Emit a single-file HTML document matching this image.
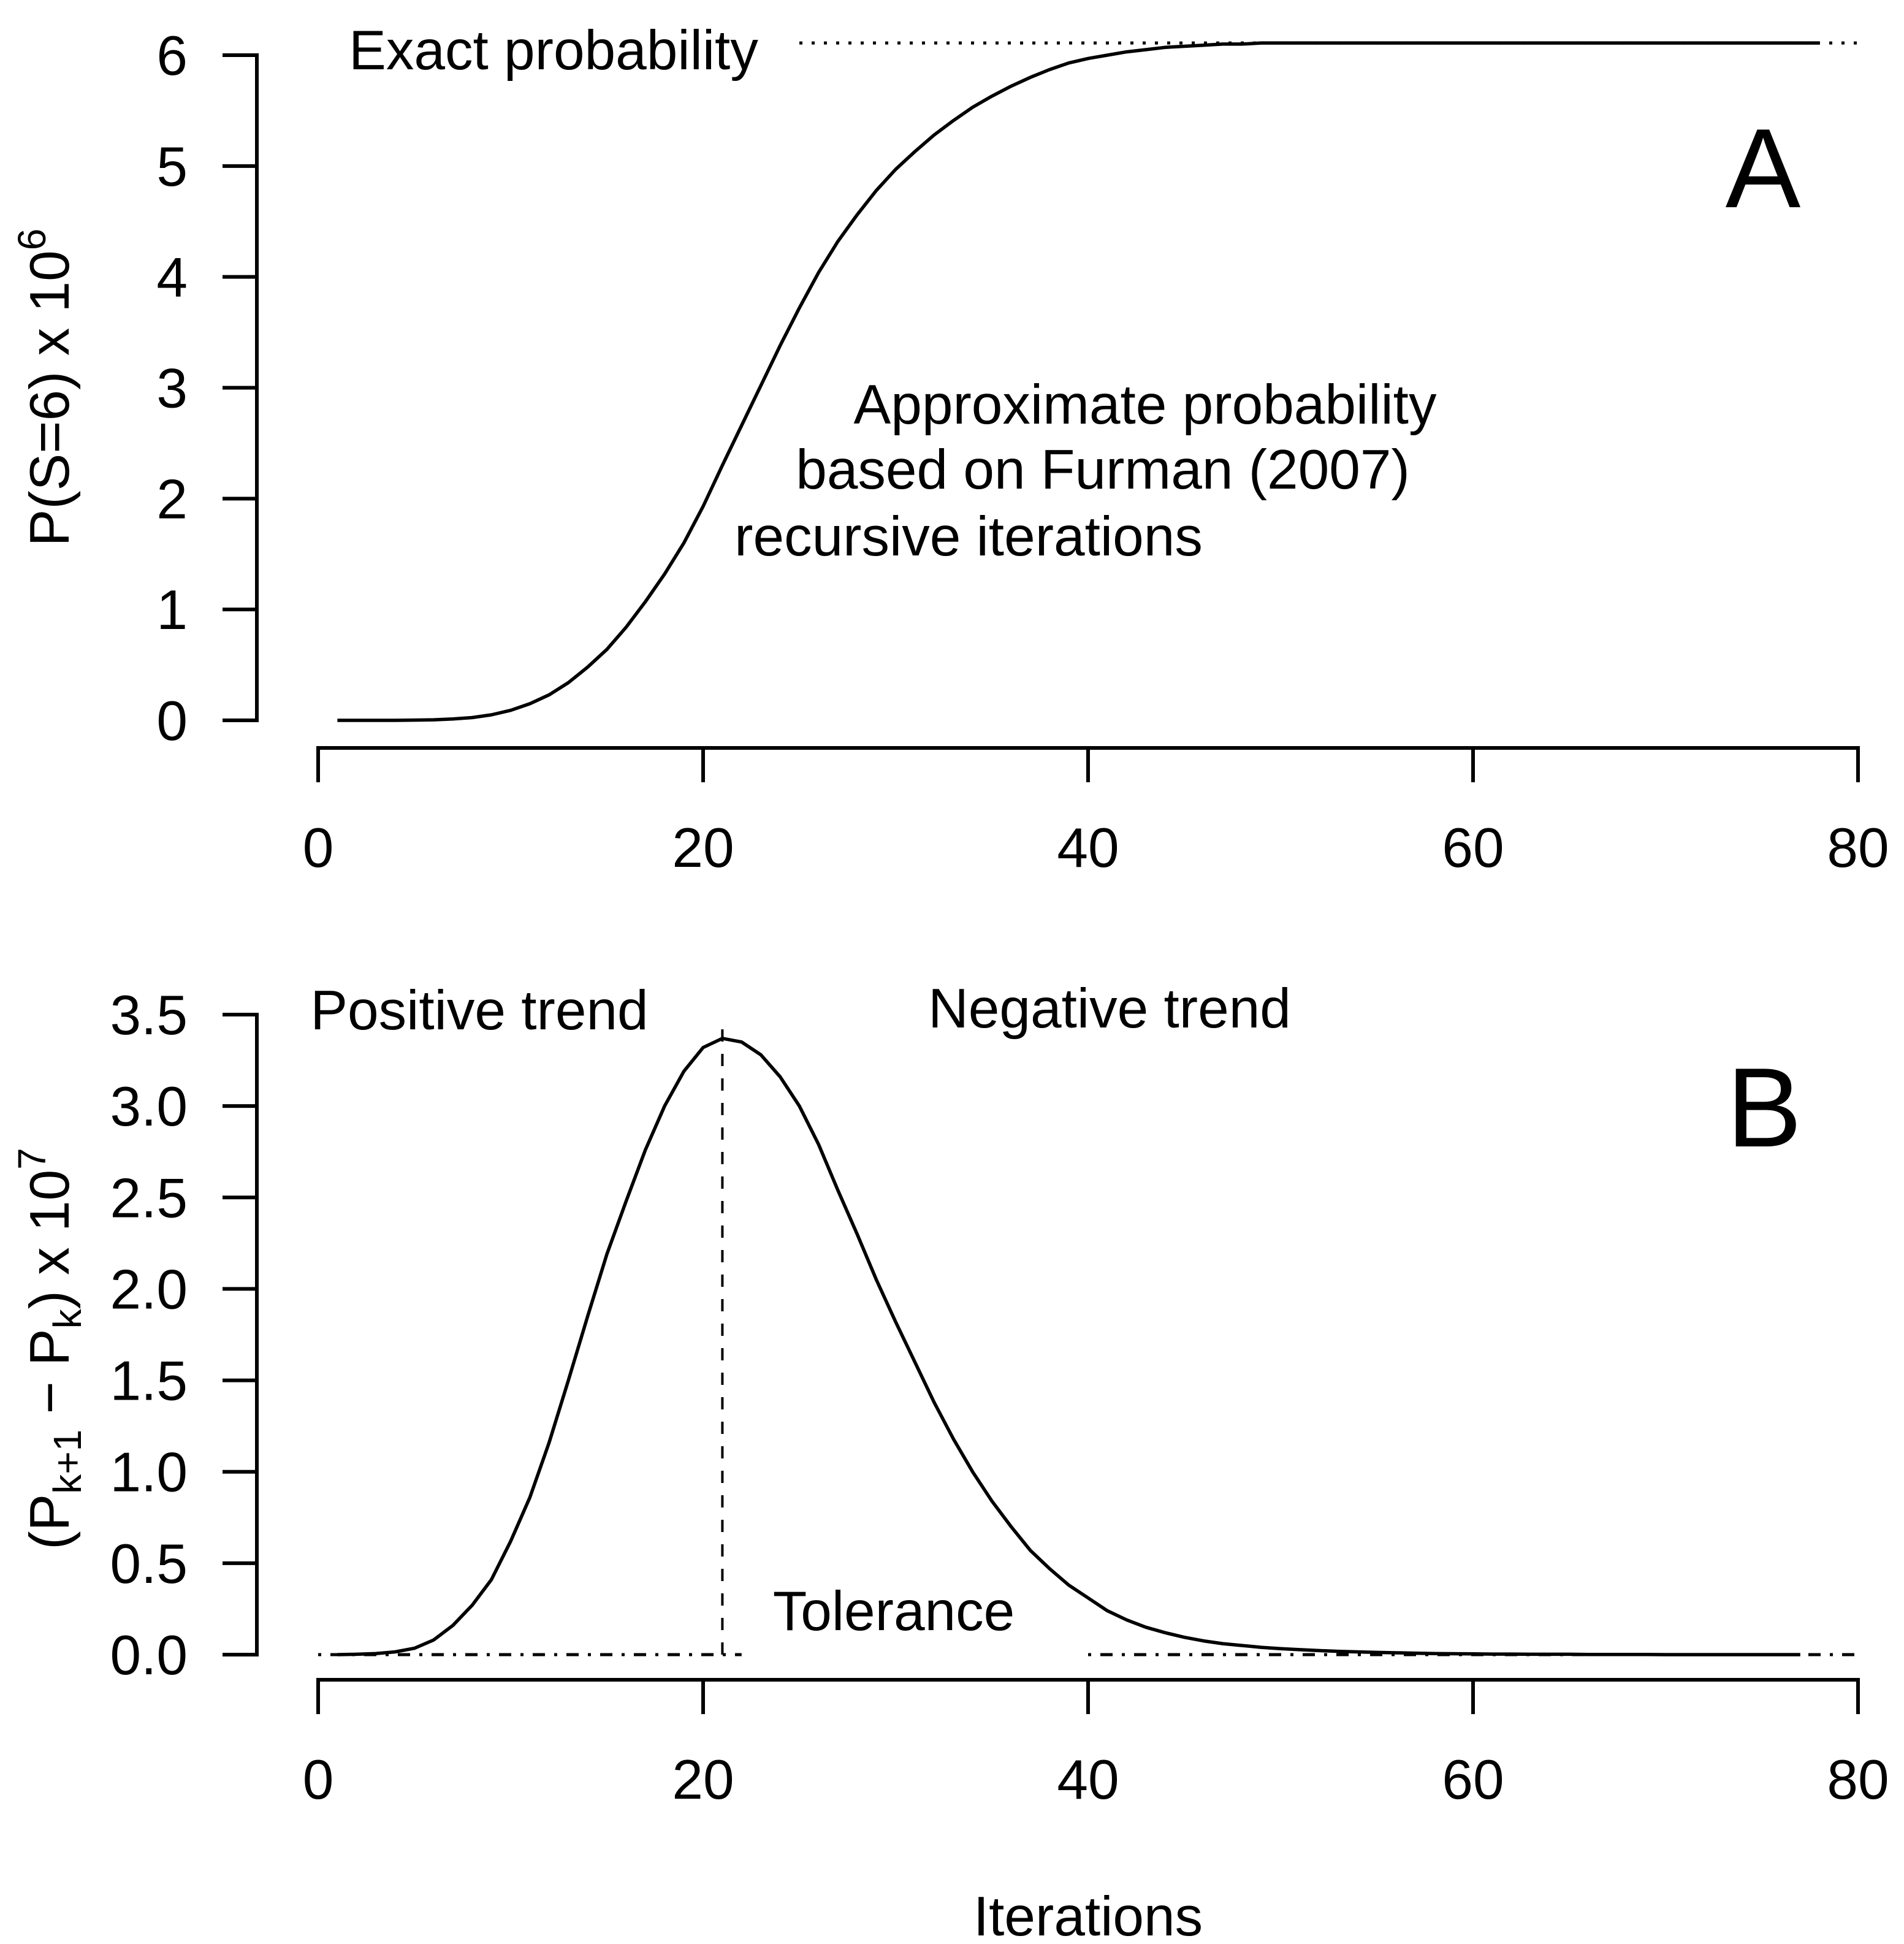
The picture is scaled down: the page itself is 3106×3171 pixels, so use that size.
<!DOCTYPE html>
<html><head><meta charset="utf-8"><style>
html,body{margin:0;padding:0;background:#fff}
body{position:relative}
svg{display:block}
text{font-family:"Liberation Sans",Arial,sans-serif;fill:#000}
</style></head><body>
<svg id="chart" width="3106" height="3171" viewBox="0 0 3106 3171" xmlns="http://www.w3.org/2000/svg">
<g id="panelA"></g>
<g id="panelB"></g>
<text x="1775" y="3157" font-size="91" text-anchor="middle">Iterations</text>
</svg>
<script>
const xTicks = [0, 20, 40, 60, 80];
const aTicks = [0, 1, 2, 3, 4, 5, 6];
const aTickLabels = ["0", "1", "2", "3", "4", "5", "6"];
const bTicks = [0, 0.5, 1, 1.5, 2, 2.5, 3, 3.5];
const bTickLabels = ["0.0", "0.5", "1.0", "1.5", "2.0", "2.5", "3.0", "3.5"];
const aValues = [0,0,0,0,0.002,0.005,0.012,0.025,0.05,0.09,0.15,0.23,0.34,0.48,0.64,0.84,1.07,1.32,1.6,1.93,2.3,2.66,3.02,3.38,3.72,4.04,4.32,4.56,4.78,4.97,5.13,5.28,5.41,5.53,5.63,5.72,5.8,5.87,5.93,5.97,6.0,6.03,6.05,6.07,6.08,6.09,6.1,6.1,6.11,6.11,6.11,6.11,6.11,6.11,6.11,6.11,6.11,6.11,6.11,6.11,6.11,6.11,6.11,6.11,6.11,6.11,6.11,6.11,6.11,6.11,6.11,6.11,6.11,6.11,6.11,6.11,6.11,6.11];
const exactValue = 6.11;
const exactRange = [25, 80];
const bValues = [0,0.002,0.006,0.015,0.035,0.08,0.16,0.27,0.41,0.62,0.86,1.16,1.5,1.85,2.19,2.48,2.76,3.0,3.19,3.32,3.37,3.35,3.28,3.16,3.0,2.79,2.54,2.3,2.05,1.82,1.6,1.38,1.18,1.0,0.84,0.70,0.57,0.47,0.38,0.31,0.24,0.19,0.15,0.12,0.095,0.075,0.06,0.05,0.04,0.033,0.027,0.022,0.018,0.015,0.012,0.01,0.008,0.006,0.005,0.004,0.003,0.003,0.002,0.002,0.002,0.001,0.001,0.001,0.001,0,0,0,0,0,0,0,0];
const peakIter = 21;
const peakLineTop = 3.44;
const tolValue = 0;
const tolRanges = [[0, 22], [40, 80]];

const NS = "http://www.w3.org/2000/svg";
function mk(parent, tag, attrs, txt) {
  const e = document.createElementNS(NS, tag);
  for (const k in attrs) e.setAttribute(k, attrs[k]);
  if (txt !== undefined) e.textContent = txt;
  parent.appendChild(e);
  return e;
}
const xs = v => 519 + v * (3031 - 519) / 80;

function panel(g, cfg) {
  const ys = v => cfg.y0 - (v - cfg.vmin) * (cfg.y0 - cfg.y1) / (cfg.vmax - cfg.vmin);
  const ya = mk(g, "line", {x1: 419, x2: 419, y1: ys(cfg.ticks[0]) + 3, y2: ys(cfg.ticks[cfg.ticks.length-1]) - 3, stroke: "#000", "stroke-width": 6});
  
  
  cfg.ticks.forEach((t, i) => {
    const tk = mk(g, "line", {x1: 363, x2: 419, y1: ys(t), y2: ys(t), stroke: "#000", "stroke-width": 6});
    
    
    const tl = mk(g, "text", {x: 306, y: ys(t) + 32, "font-size": 91, "text-anchor": "end"}, cfg.labels[i]);
    
    
  });
  const xa = mk(g, "line", {x1: xs(0) - 3, x2: xs(80) + 3, y1: cfg.xAxisY, y2: cfg.xAxisY, stroke: "#000", "stroke-width": 6});
  
  
  xTicks.forEach(t => {
    const tk = mk(g, "line", {x1: xs(t), x2: xs(t), y1: cfg.xAxisY, y2: cfg.xAxisY + 56, stroke: "#000", "stroke-width": 6});
    
    
    const tl = mk(g, "text", {x: xs(t), y: cfg.xAxisY + 194, "font-size": 91, "text-anchor": "middle"}, String(t));
    
    
  });
  const pts = cfg.values.map((v, i) => xs(i + 1).toFixed(1) + "," + ys(v).toFixed(1)).join(" ");
  const c = mk(g, "polyline", {points: pts, fill: "none", stroke: "#000", "stroke-width": 5.5, "stroke-linejoin": "round"});
  
  
  return ys;
}

const gA = document.getElementById("panelA");
const ysA = panel(gA, {y0: 1175, y1: 90, vmin: 0, vmax: 6, ticks: aTicks, labels: aTickLabels, xAxisY: 1220, values: aValues, curveName: "approximate-probability-curve"});
const ex = mk(gA, "line", {x1: xs(exactRange[0]), x2: xs(exactRange[1]), y1: ysA(exactValue), y2: ysA(exactValue), stroke: "#000", "stroke-width": 5, "stroke-dasharray": "5 15"});



const gB = document.getElementById("panelB");
const ysB = panel(gB, {y0: 2699, y1: 1655, vmin: 0, vmax: 3.5, ticks: bTicks, labels: bTickLabels, xAxisY: 2740, values: bValues, curveName: "difference-curve"});
tolRanges.forEach(r => {
  const t = mk(gB, "line", {x1: xs(r[0]), x2: xs(r[1]), y1: ysB(tolValue), y2: ysB(tolValue), stroke: "#000", "stroke-width": 5, "stroke-dasharray": "5 15 20 15"});
  
  
});
const pk = mk(gB, "line", {x1: xs(peakIter), x2: xs(peakIter), y1: ysB(0), y2: ysB(peakLineTop), stroke: "#000", "stroke-width": 4, "stroke-dasharray": "20 20"});


</script>
<svg style="position:absolute;left:0;top:0" width="3106" height="3171">
<text x="903" y="113" font-size="91" text-anchor="middle">Exact probability</text>
<text x="1868" y="691" font-size="91" text-anchor="middle">Approximate probability</text>
<text x="1799" y="797" font-size="91" text-anchor="middle">based on Furman (2007)</text>
<text x="1580" y="906" font-size="91" text-anchor="middle">recursive iterations</text>
<text x="2876" y="338" font-size="184" text-anchor="middle">A</text>
<text transform="translate(112,632) rotate(-90)" font-size="91" text-anchor="middle">P(S=6) x 10<tspan font-size="64" dy="-38">6</tspan></text>
<text x="782" y="1679" font-size="91" text-anchor="middle">Positive trend</text>
<text x="1810" y="1676" font-size="91" text-anchor="middle">Negative trend</text>
<text x="2878" y="1870" font-size="184" text-anchor="middle">B</text>
<text x="1458" y="2659" font-size="91" text-anchor="middle">Tolerance</text>
<text transform="translate(112,2200) rotate(-90)" font-size="91" text-anchor="middle">(P<tspan font-size="64" dy="20">k+1</tspan><tspan dy="-20"> − P</tspan><tspan font-size="64" dy="20">k</tspan><tspan dy="-20">) x 10</tspan><tspan font-size="64" dy="-38">7</tspan></text>
</svg>
</body></html>
